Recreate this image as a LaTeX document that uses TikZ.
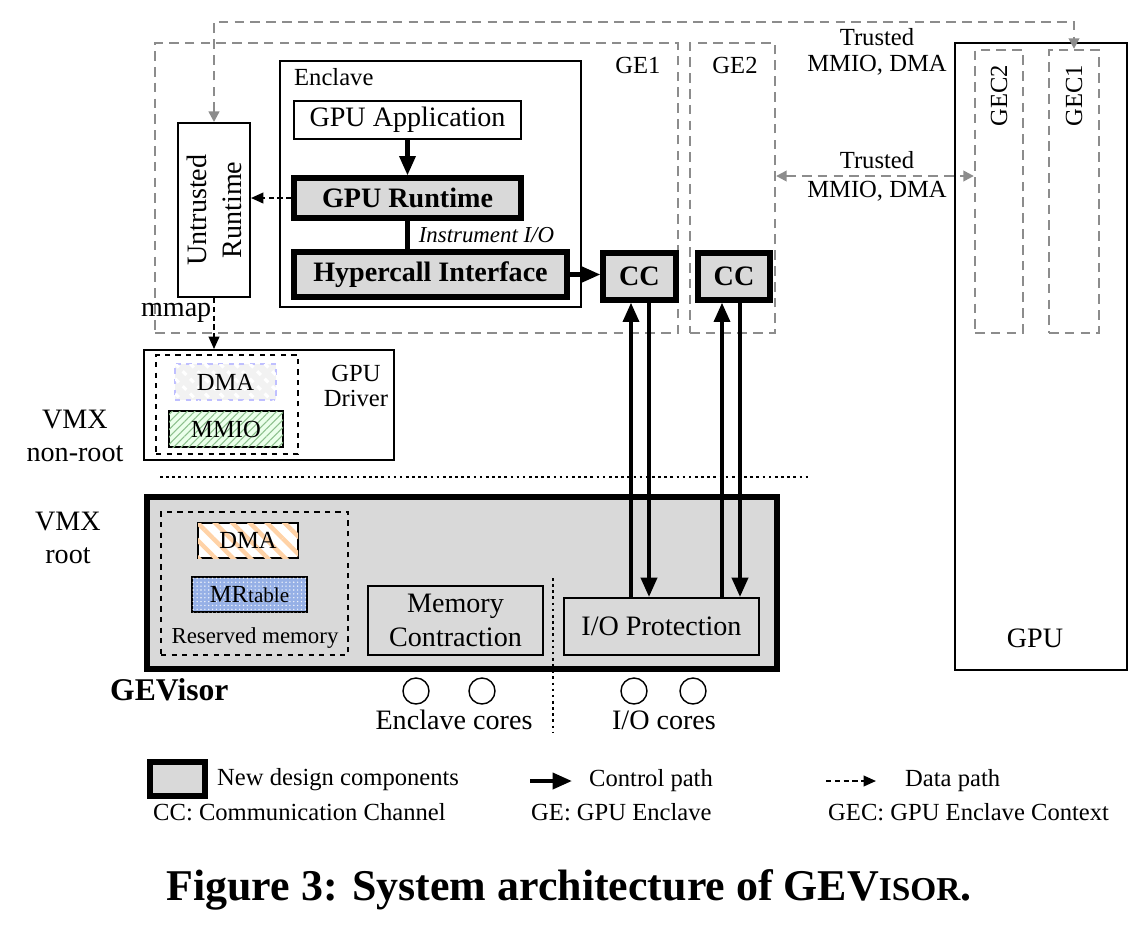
\documentclass[tikz,border=0pt]{standalone}
\usepackage{fontspec}
\setmainfont{Liberation Serif}
\usetikzlibrary{arrows.meta,fit,patterns.meta}

\definecolor{mrblue}{RGB}{150,176,230}
\definecolor{gegray}{RGB}{140,140,140}

\tikzset{
  box/.style={draw, line width=1.1pt, inner sep=0pt, align=center},
  newbox/.style={draw, line width=3pt, fill=gray!30, inner sep=0pt},
  gebox/.style={draw=gegray, line width=1.3pt, dash pattern=on 5.5pt off 3.5pt, inner sep=0pt},
  ctrl/.style={line width=2.3pt, -{Triangle[length=11pt,width=9pt]}},
  data/.style={line width=1.1pt, dash pattern=on 3pt off 2pt, -{Triangle[length=7pt,width=6pt]}},
  trusted/.style={draw=gegray, line width=1.3pt, dash pattern=on 5.5pt off 3.5pt,
    {Triangle[length=6pt,width=6pt]}-{Triangle[length=6pt,width=6pt]}},
  core/.style={circle, draw, line width=0.8pt, minimum size=0.52cm, inner sep=0pt},
  lbl/.style={font=\fontsize{16}{19}\selectfont, align=center},
  sml/.style={font=\fontsize{14}{14}\selectfont, align=center},
  bld/.style={font=\fontsize{16}{18}\selectfont\bfseries},
}

\begin{document}
\begin{tikzpicture}[x=0.02cm, y=-0.02cm]
\useasboundingbox (0,0) rectangle (1147,934);

% GPU enclaves
\node[gebox, fit={(155,43) (678,333)}] (ge1) {};
\node[gebox, fit={(690,43) (775,333)}] (ge2) {};
\node[sml] (ge1lbl) at (638,65) {GE1};
\node[sml] (ge2lbl) at (735,65) {GE2};

% Enclave
\node[box, line width=1.3pt, fit={(280,61) (581,307)}] (encl) {};
\node[sml, anchor=west] (encllbl) at (288,77) {Enclave};
\node[box, fit={(294,101) (521,139)}, label={[lbl]center:GPU Application}] (app) {};
\node[newbox, fit={(294,178) (521,218)}, label={[bld]center:GPU Runtime}] (rt) {};
\node[newbox, fit={(294,252) (567,297)}, label={[bld]center:Hypercall Interface}] (hyp) {};

% Communication channels
\node[newbox, fit={(603,253) (676,300)}, label={[bld]center:CC}] (cc1) {};
\node[newbox, fit={(698,253) (770,300)}, label={[bld]center:CC}] (cc2) {};

% Untrusted runtime
\node[box, fit={(178,123) (250,297)}] (ur) {};
\node[font=\fontsize{16}{20}\selectfont, align=center, rotate=90] (urlbl) at (ur) {Untrusted\\Runtime};

% GPU driver
\node[box, fit={(144,350) (394,460)}] (drv) {};
\node[box, dashed, line width=0.8pt, fit={(156,355) (298,454)}] (drvmem) {};
\node[box, draw=blue!25, dashed, fill=gray!10,
  postaction={pattern={Lines[angle=-45,distance=6pt,line width=1.8pt]}, pattern color=white},
  fit={(175,364) (276,400)}, label={[sml]center:DMA}] (dma1) {};
\node[box, fill=green!8,
  postaction={pattern={Lines[angle=45,distance=3pt,line width=0.6pt]}, pattern color=green!45!black!45},
  fit={(169,411) (283,447)}, label={[sml]center:MMIO}] (mmio1) {};
\node[sml] (drvlbl) at (356,386) {GPU\\Driver};

% Privilege levels
\node[lbl] (nonroot) at (75,436) {VMX\\non-root};
\draw[dotted, line width=1.5pt] (160,477) -- (808,477);
\node[lbl] (root) at (68,538) {VMX\\root};

% GEVisor
\node[box, line width=3pt, fill=gray!30, fit={(147,497) (777,669)}] (gev) {};
\node[box, dashed, line width=0.8pt, fit={(161,512) (348,655)}] (resv) {};
\node[box, fill=white,
  postaction={pattern={Lines[angle=-45,distance=7pt,line width=2.5pt]}, pattern color=orange!35},
  fit={(198,523) (298,558)}, label={[sml]center:DMA}] (dma2) {};
\node[box, fill=mrblue,
  postaction={pattern={Dots[distance=2.2pt,radius=0.45pt]}, pattern color=white!85!mrblue},
  fit={(192,577) (307,612)},
  label={[sml]center:MR{\fontsize{12}{12}\selectfont table}}] (mrt) {};
\node[font=\fontsize{13}{13}\selectfont] (resvlbl) at (255,638) {Reserved memory};
\node[box, fit={(368,586) (543,655)}, label={[lbl]center:Memory\\Contraction}] (memc) {};
\node[box, fit={(564,598) (759,655)}, label={[lbl]center:I/O Protection}] (iop) {};
\draw[dotted, line width=1.5pt] (553,578) -- (553,733);
\node[font=\fontsize{18}{18}\selectfont\bfseries, anchor=west] (gevlbl) at (104,690) {GEVisor};

% Cores
\foreach \x/\n in {416/1,482/2,634/3,693/4}
  \node[core] (core\n) at (\x,691) {};
\node[lbl] (enclcores) at (454,720) {Enclave cores};
\node[lbl] (iocores) at (664,720) {I/O cores};

% GPU
\node[box, line width=1.3pt, fit={(955,43) (1127,670)}] (gpu) {};
\node[gebox, fit={(975,50) (1023,333)}] (gec2) {};
\node[gebox, fit={(1049,50) (1099,333)}] (gec1) {};
\node[sml, rotate=90] (gec2lbl) at (999,96) {GEC2};
\node[sml, rotate=90] (gec1lbl) at (1074,96) {GEC1};
\node[lbl] (gpulbl) at (1035,638) {GPU};

% Paths inside the enclave
\draw[ctrl] (app) -- (rt);
\draw[line width=2.3pt] (rt.south) -- (rt.south |- hyp.north)
  node[midway, anchor=west, xshift=2pt, font=\fontsize{13}{13}\selectfont\itshape] (instr) {Instrument I/O};
\draw[data] (rt.west) -- (ur.east |- rt.west);
\draw[ctrl] (hyp.east) -- (cc1.west |- hyp.east);
\draw[data] (ur.south) -- (ur.south |- drv.north)
  node[pos=0.3, anchor=east, inner sep=1pt, lbl] (mmap) {mmap};

% Channels to I/O protection
\coordinate (up1) at (631,0);
\coordinate (dn1) at (649,0);
\coordinate (up2) at (722,0);
\coordinate (dn2) at (740,0);
\draw[ctrl] (up1 |- iop.north) -- (up1 |- cc1.south);
\draw[ctrl] (dn1 |- cc1.south) -- (dn1 |- iop.north);
\draw[ctrl] (up2 |- iop.north) -- (up2 |- cc2.south);
\draw[ctrl] (dn2 |- cc2.south) -- (dn2 |- iop.north);

% Trusted MMIO, DMA
\coordinate (toprow) at (0,22);
\coordinate (midrow) at (0,176);
\draw[trusted] (ur.north) -- (ur.north |- toprow) -| (gec1.north);
\draw[trusted] (ge2.east |- midrow) -- (gec2.west |- midrow);
\node[sml, font=\fontsize{14}{14.5}\selectfont] (trust1) at (877,52) {Trusted\\MMIO, DMA};
\node[sml] (trust2) at (877,160) {Trusted};
\node[sml] (trust3) at (877,191) {MMIO, DMA};

% Legend
\node[newbox, fit={(150,762) (205,796)}] (lgbox) {};
\node[sml, anchor=west] (lgnew) at (211,780) {New design components};
\node[sml, anchor=west] (lgcc) at (147,812) {CC: Communication Channel};
\coordinate (lgc1) at (530,781);
\coordinate (lgc2) at (572,781);
\draw[ctrl] (lgc1) -- (lgc2);
\node[sml, anchor=west] (lgctrl) at (583,781) {Control path};
\node[sml, anchor=west] (lgge) at (525,812) {GE: GPU Enclave};
\coordinate (lgd1) at (826,781);
\coordinate (lgd2) at (876,781);
\draw[data] (lgd1) -- (lgd2);
\node[sml, anchor=west] (lgdata) at (899,781) {Data path};
\node[sml, anchor=west] (lggec) at (822,812) {GEC: GPU Enclave Context};

% Caption
\node[font=\fontsize{25}{25}\selectfont\bfseries] (caption) at (569,890)
  {Figure 3: System architecture of GEV{\fontsize{19}{19}\selectfont ISOR}.};
\end{tikzpicture}
\end{document}
